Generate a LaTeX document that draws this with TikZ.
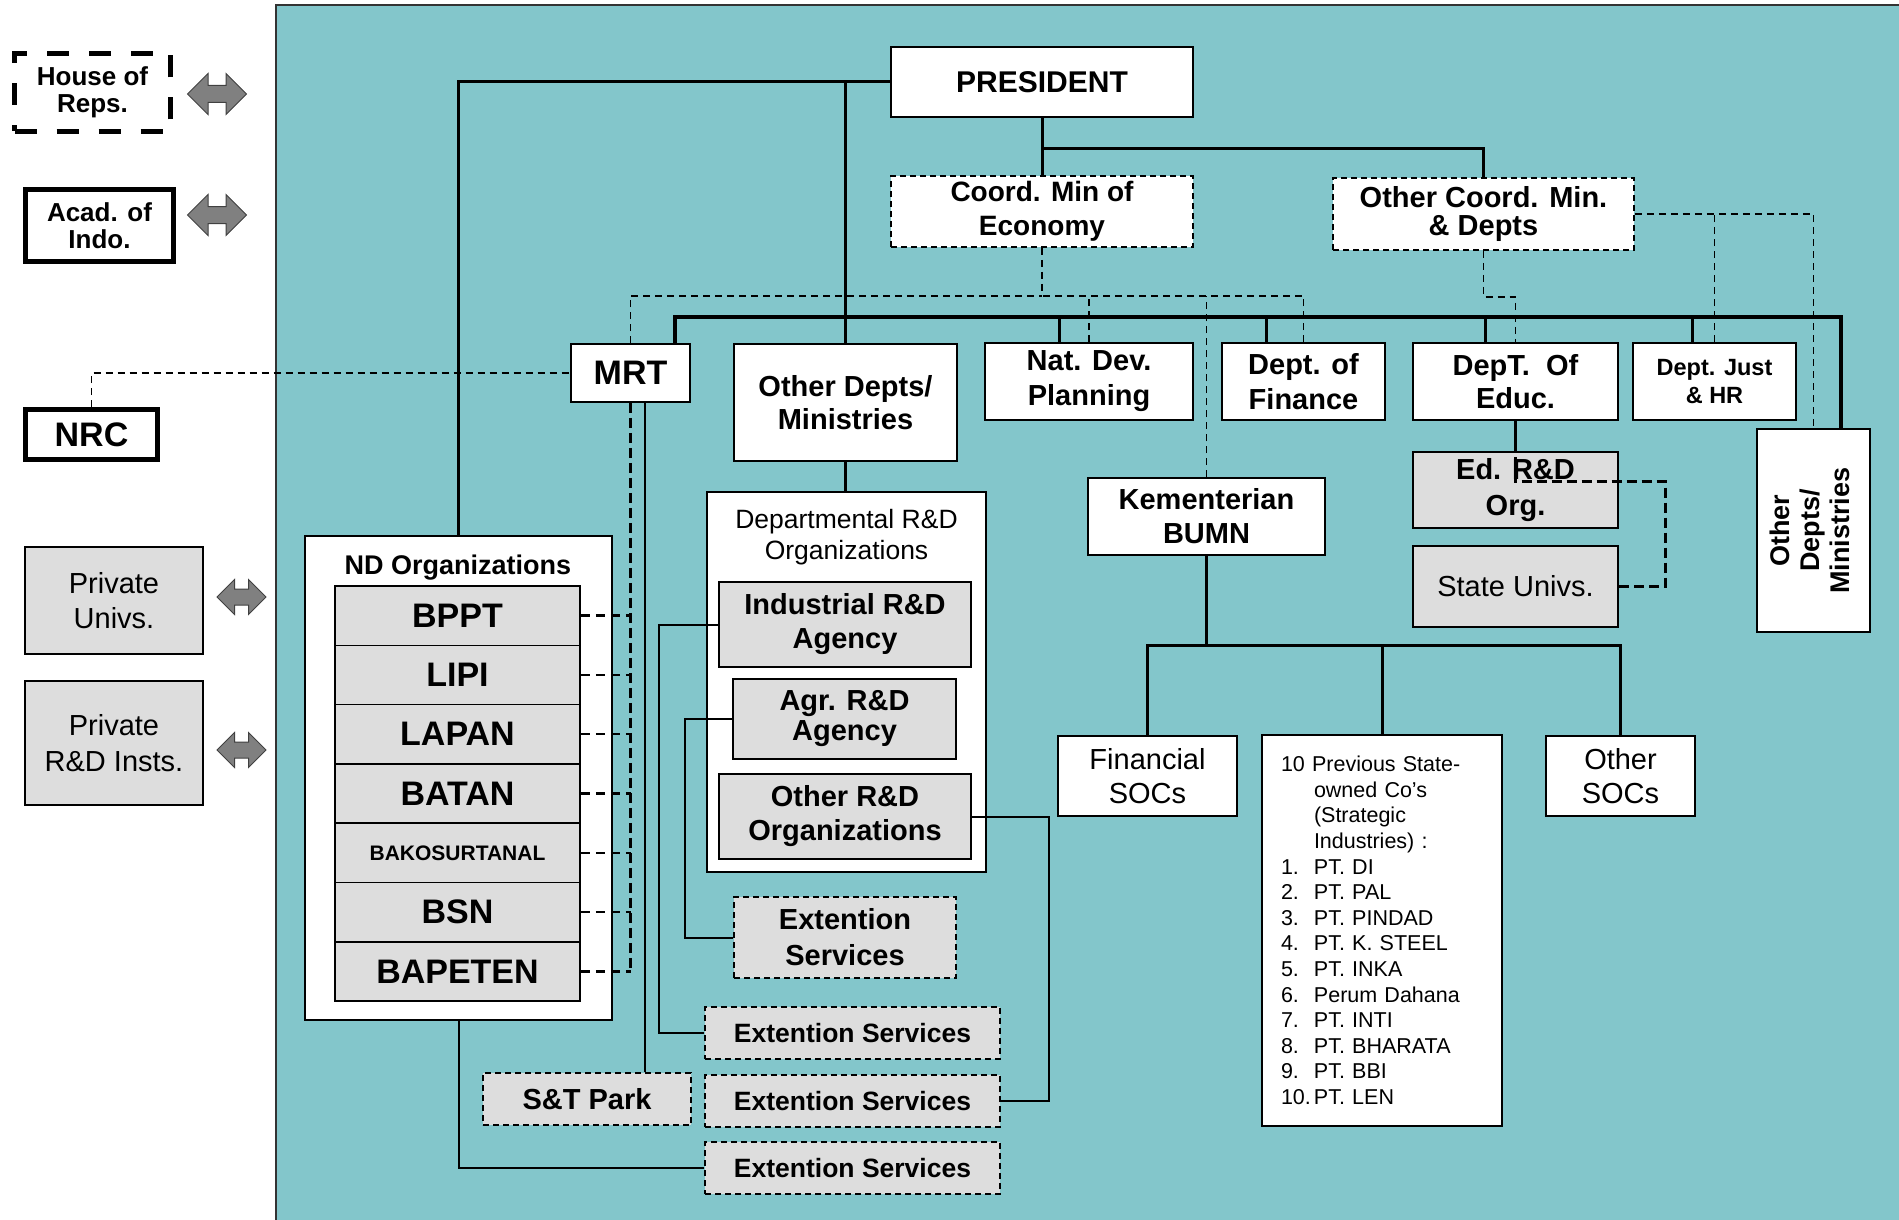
\documentclass[tikz,border=0pt]{standalone}
\usepackage{fontspec}
\setmainfont{Liberation Sans}
\usepackage{graphicx}
\usepackage{xcolor}
\usetikzlibrary{shapes.arrows, positioning, calc}
\definecolor{bgteal}{RGB}{131,198,203}
\definecolor{boxgray}{RGB}{221,221,221}
\definecolor{arrgray}{RGB}{128,128,128}
\newcommand{\fsz}[2]{\fontsize{#1}{#2}\selectfont}
\newcommand{\socitem}[2]{\makebox[33pt][l]{#1}#2}
\tikzstyle{unit} = [rectangle, text centered, align=center, inner sep=0pt, draw=black, line width=1.6pt, fill=white]
\tikzstyle{grayunit} = [unit, fill=boxgray]
\tikzstyle{dashunit} = [unit, dash pattern=on 6pt off 4pt]
\tikzstyle{graydash} = [grayunit, dash pattern=on 6pt off 4pt]
\tikzstyle{heavyunit} = [unit, line width=5pt]
\tikzstyle{dblarrow} = [double arrow, draw=black!75, line width=1pt, fill=arrgray, inner sep=8pt, double arrow head extend=12pt, minimum height=59pt, minimum width=0pt]
\tikzstyle{link} = [line width=3pt]
\tikzstyle{buslink} = [line width=4pt]
\tikzstyle{thinlink} = [line width=2pt]
\tikzstyle{dashlink} = [line width=1.6pt, dash pattern=on 7pt off 5pt]
\tikzstyle{bolddash} = [line width=3pt, dash pattern=on 10pt off 5pt]

\begin{document}
\begin{tikzpicture}[x=1pt, y=-1pt]

    % Sfondo
    \useasboundingbox (0,0) rectangle (1899,1220);
    \fill[white] (0,0) rectangle (1899,1220);
    \draw[fill=bgteal, draw=black!80, line width=1.5pt] (276,5) rectangle (1910,1230);

    % Nodi esterni
    \node (house) [unit, line width=5pt, dash pattern=on 22pt off 20pt, minimum width=156pt, minimum height=78pt, font=\fsz{26}{27}\bfseries] at (92.5,92.5) {House of\\Reps.};
    \node (acad) [heavyunit, minimum width=148pt, minimum height=72pt, font=\fsz{26}{27}\bfseries] at (99.5,225.5) {Acad. of\\Indo.};
    \node (nrc) [heavyunit, minimum width=132pt, minimum height=50pt, font=\fsz{34}{40}\bfseries] at (91.5,434.5) {NRC};
    \node (privUniv) [grayunit, minimum width=178pt, minimum height=107pt, font=\fsz{29}{35}] at (114,600.5) {Private\\Univs.};
    \node (privRD) [grayunit, minimum width=178pt, minimum height=124pt, font=\fsz{29}{36}] at (114,743) {Private\\R\&D Insts.};
    \node (arrHouse) [dblarrow] at (217,94) {};
    \node (arrAcad) [dblarrow] at (217,215) {};
    \node (arrUniv) [dblarrow, minimum height=49pt, inner sep=7.5pt, double arrow head extend=9.5pt] at (241.5,597) {};
    \node (arrRD) [dblarrow, minimum height=49pt, inner sep=7.5pt, double arrow head extend=9.5pt] at (241.5,750) {};

    % Nodi del governo
    \node (president) [unit, minimum width=302pt, minimum height=70pt, font=\fsz{30}{34}\bfseries] at (1042,82) {PRESIDENT};
    \node (coordEcon) [dashunit, minimum width=302pt, minimum height=71pt, font=\fsz{28}{34}\bfseries] at (1042,211.5) {Coord. Min of\\Economy};
    \node (otherCoord) [dashunit, minimum width=301pt, minimum height=72pt, font=\fsz{29}{28}\bfseries] at (1483.5,214) {Other Coord. Min.\\\& Depts};
    \node (mrt) [unit, minimum width=119pt, minimum height=58pt, font=\fsz{34}{40}\bfseries] at (630.5,373) {MRT};
    \node (otherDepts) [unit, minimum width=223pt, minimum height=117pt, font=\fsz{29}{33}\bfseries] at (845.5,402.5) {Other Depts/\\Ministries};
    \node (natDev) [unit, minimum width=208pt, minimum height=77pt, font=\fsz{29}{35}\bfseries] at (1089,381.5) {Nat. Dev.\\Planning};
    \node (finance) [unit, minimum width=163pt, minimum height=77pt, font=\fsz{29}{35}\bfseries] at (1303.5,381.5) {Dept. of\\Finance};
    \node (educ) [unit, minimum width=205pt, minimum height=77pt, font=\fsz{29}{33}\bfseries] at (1515.5,381.5) {DepT.\ \ Of\\Educ.};
    \node (deptJust) [unit, minimum width=163pt, minimum height=77pt, font=\fsz{23.5}{28}\bfseries] at (1714.5,381.5) {Dept. Just\\\& HR};
    \node (otherDeptsR) [unit, minimum width=113pt, minimum height=203pt, font=\fsz{27}{30}\bfseries] at (1813.5,530.5) {\rotatebox{90}{\begin{tabular}{@{}c@{}}Other\\Depts/\\Ministries\end{tabular}}};
    \node (edRD) [grayunit, minimum width=205pt, minimum height=76pt, font=\fsz{29}{36}\bfseries] at (1515.5,490) {Ed. R\&D\\Org.};
    \node (stateUniv) [grayunit, minimum width=205pt, minimum height=81pt, font=\fsz{29}{35}] at (1515.5,586.5) {State Univs.};
    \node (bumn) [unit, minimum width=237pt, minimum height=77pt, font=\fsz{29}{34}\bfseries] at (1206.5,516.5) {Kementerian\\BUMN};
    \node (finSOC) [unit, minimum width=179pt, minimum height=80pt, font=\fsz{29}{34}] at (1147.5,776) {Financial\\SOCs};
    \node (otherSOC) [unit, minimum width=149pt, minimum height=80pt, font=\fsz{29}{34}] at (1620.5,776) {Other\\SOCs};
    \node (prevSOC) [unit, minimum width=240pt, minimum height=391pt, text width=202pt, inner xsep=19pt, align=left, font=\fsz{21.5}{25.6}] at (1382,930.5) {10 Previous State-\\\hspace*{33pt}owned Co’s\\\hspace*{33pt}(Strategic\\\hspace*{33pt}Industries) :\\\socitem{1.}{PT. DI}\\\socitem{2.}{PT. PAL}\\\socitem{3.}{PT. PINDAD}\\\socitem{4.}{PT. K. STEEL}\\\socitem{5.}{PT. INKA}\\\socitem{6.}{Perum Dahana}\\\socitem{7.}{PT. INTI}\\\socitem{8.}{PT. BHARATA}\\\socitem{9.}{PT. BBI}\\\socitem{10.}{PT. LEN}};

    % Organizzazioni R&D
    \node (ndOrg) [unit, minimum width=307pt, minimum height=484pt] at (458.5,778) {};
    \node (ndTitle) [font=\fsz{27}{32}\bfseries] at (458,568) {ND Organizations};
    \foreach \nm/\txt [count=\i] in {bppt/BPPT, lipi/LIPI, lapan/LAPAN, batan/BATAN, bako/{\fsz{21}{25}BAKOSURTANAL}, bsn/BSN, bapeten/BAPETEN}
        \node (\nm) [grayunit, minimum width=245pt, minimum height=59.3pt, font=\fsz{34}{40}\bfseries] at (457.5,556.35+59.3*\i) {\txt};
    \node (deptRD) [unit, minimum width=279pt, minimum height=380pt] at (846.5,682) {};
    \node (deptTitle) [align=center, font=\fsz{26.5}{31}] at (846.5,537.6) {Departmental R\&D\\Organizations};
    \node (indRD) [grayunit, minimum width=252pt, minimum height=85pt, font=\fsz{29}{34}\bfseries] at (845,624.5) {Industrial R\&D\\Agency};
    \node (agrRD) [grayunit, minimum width=223pt, minimum height=80pt, font=\fsz{29}{30}\bfseries] at (844.5,719) {Agr. R\&D\\Agency};
    \node (othRD) [grayunit, minimum width=252pt, minimum height=85pt, font=\fsz{29}{34}\bfseries] at (845,816.5) {Other R\&D\\Organizations};
    \node (es1) [graydash, minimum width=222pt, minimum height=81pt, font=\fsz{29}{36}\bfseries] at (845,937.5) {Extention\\Services};
    \node (es2) [graydash, minimum width=295pt, minimum height=52pt, font=\fsz{26.5}{30}\bfseries] at (852.5,1033) {Extention Services};
    \node (es3) [graydash, minimum width=295pt, minimum height=52pt, font=\fsz{26.5}{30}\bfseries] at (852.5,1101) {Extention Services};
    \node (es4) [graydash, minimum width=295pt, minimum height=52pt, font=\fsz{26.5}{30}\bfseries] at (852.5,1168) {Extention Services};
    \node (stPark) [graydash, minimum width=208pt, minimum height=52pt, font=\fsz{29}{34}\bfseries] at (587,1099) {S\&T Park};

    % Collegamenti
    \coordinate (bus) at (0,317);
    \draw[link] (president.west) -| (ndOrg.north);
    \draw[link] (otherDepts.north) -- (otherDepts.north |- president.west);
    \draw[link] (president.south) -- (coordEcon.north);
    \draw[link] (president.south) ++(0,31) -| (otherCoord.north);
    \draw[buslink] ([xshift=44.5pt]mrt.north) |- ([xshift=27pt]bus -| otherDeptsR.north) -- ([xshift=27pt]otherDeptsR.north);
    \foreach \nm/\dx in {natDev/-30, finance/-37.5, educ/-30, deptJust/-22}
        \draw[link] ([xshift=\dx pt]\nm.north) -- ([xshift=\dx pt]\nm.north |- bus);
    \draw[link] (otherDepts.south) -- (otherDepts.south |- deptRD.north);
    \draw[link] (educ.south) -- (edRD.north);
    \draw[link] (bumn.south) -- ++(0,90) coordinate (bumnBr);
    \draw[link] (finSOC.north) |- (bumnBr -| otherSOC.north) -- (otherSOC.north);
    \draw[link] (prevSOC.north) -- (prevSOC.north |- bumnBr);
    \draw[thinlink] ([xshift=14.5pt]mrt.south) -- ([xshift=14.5pt]mrt.south |- stPark.north);
    \draw[thinlink] (indRD.west) -- ++(-59,0) |- (es2.west);
    \draw[thinlink] (agrRD.west) -- ++(-47,0) |- (es1.west);
    \draw[thinlink] (othRD.east) -- ++(77,0) |- (es3.east);
    \draw[thinlink] (ndOrg.south) |- (es4.west);

    % Collegamenti tratteggiati
    \draw[dashlink] (coordEcon.south) -- ++(0,48) coordinate (econBr);
    \draw[dashlink] (mrt.north) |- (econBr);
    \draw[dashlink] (finance.north) |- (econBr);
    \draw[dashlink] (natDev.north) -- (natDev.north |- econBr);
    \draw[dashlink] (bumn.north) -- (bumn.north |- econBr);
    \draw[dashlink] (otherCoord.south) -- ++(0,46) -| (educ.north);
    \draw[dashlink] (otherCoord.east) -| (otherDeptsR.north);
    \draw[dashlink] (deptJust.north) -- (deptJust.north |- otherCoord.east);
    \draw[dashlink] (nrc.north) |- (mrt.west);
    \draw[bolddash] ([yshift=-6pt]edRD.north) -- ([yshift=-30pt]edRD.north) -- ++(149.5,0) |- (stateUniv.east);
    \draw[bolddash] (mrt.south) -- (mrt.south |- bapeten.east);
    \foreach \nm in {bppt, lipi, lapan, batan, bako, bsn, bapeten}
        \draw[line width=2.4pt, dash pattern=on 9pt off 6pt] (\nm.east) -- (\nm.east -| mrt.south);

\end{tikzpicture}
\end{document}
